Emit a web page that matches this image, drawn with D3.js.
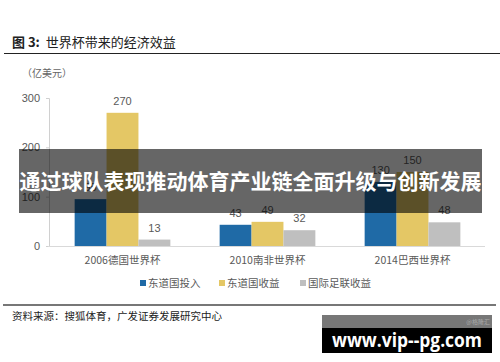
<!DOCTYPE html>
<html>
<head>
<meta charset="utf-8">
<script src="https://cdn.jsdelivr.net/npm/d3@7"></script>
<style>
body { margin: 0; background: #fff; }
svg { display: block; font-family: "Noto Sans CJK SC", "Liberation Sans", sans-serif; }
</style>
</head>
<body>
<script>
// data
var cups = ["2006德国世界杯", "2010南非世界杯", "2014巴西世界杯"];
var seriesNames = ["东道国投入", "东道国收益", "国际足联收益"];
var hostCost = [95, 43, 130];
var hostGain = [270, 49, 150];
var fifaGain = [13, 32, 48];
var yTicks = [0, 100, 200, 300];
var colors = ["#1f6aa6", "#e4c765", "#bfbfbf"];

var W = 500, H = 362;
var svg = d3.select("body").append("svg").attr("width", W).attr("height", H);

// title
var title = svg.append("text").attr("x", 12).attr("y", 47)
    .attr("font-size", 13).attr("fill", "#222");
title.append("tspan").attr("font-weight", "bold").text("图 3:");
title.append("tspan").attr("dx", 6).text("世界杯带来的经济效益");
svg.append("line").attr("x1", 4).attr("x2", 500).attr("y1", 53.5).attr("y2", 53.5)
    .attr("stroke", "#222").attr("stroke-width", 1.2);

svg.append("text").attr("x", 22).attr("y", 77)
    .attr("font-size", 10).attr("fill", "#666").text("（亿美元）");

var x0 = d3.scaleBand().domain(cups).range([50, 485]).paddingInner(0.34).paddingOuter(0.17);
var x1 = d3.scaleBand().domain([0, 1, 2]).range([0, x0.bandwidth()]);
var y = d3.scaleLinear().domain([0, 300]).range([246, 98]);

// y axis
var ya = svg.append("g").attr("transform", "translate(49,0)")
    .call(d3.axisLeft(y).tickValues(yTicks).tickSize(3).tickPadding(6));
ya.select(".domain").attr("stroke", "#d0d0d0");
ya.selectAll(".tick line").attr("stroke", "#d0d0d0");
ya.selectAll(".tick text").attr("font-size", 11).attr("fill", "#595959")
    .attr("font-family", "Liberation Sans, sans-serif");

// baseline
svg.append("line").attr("x1", 48).attr("x2", 485).attr("y1", y(0) + 0.5).attr("y2", y(0) + 0.5)
    .attr("stroke", "#d9d9d9").attr("stroke-width", 1);

var series = [hostCost, hostGain, fifaGain];
var rows = [];
series.forEach(function (vals, s) {
    vals.forEach(function (v, i) { rows.push({ s: s, i: i, v: v }); });
});

svg.selectAll("rect.bar").data(rows).enter().append("rect")
    .attr("class", "bar")
    .attr("x", function (d) { return x0(cups[d.i]) + x1(d.s); })
    .attr("y", function (d) { return y(d.v); })
    .attr("width", x1.bandwidth())
    .attr("height", function (d) { return y(0) - y(d.v); })
    .attr("fill", function (d) { return colors[d.s]; });

svg.selectAll("text.lab").data(rows).enter().append("text")
    .attr("class", "lab")
    .attr("x", function (d) { return x0(cups[d.i]) + x1(d.s) + x1.bandwidth() / 2; })
    .attr("y", function (d) { return y(d.v) - 8; })
    .attr("text-anchor", "middle").attr("font-size", 11).attr("fill", "#595959")
    .attr("font-family", "Liberation Sans, sans-serif")
    .text(function (d) { return d.v; });

// x labels
svg.selectAll("text.xl").data(cups).enter().append("text")
    .attr("class", "xl")
    .attr("x", function (d) { return x0(d) + x0.bandwidth() / 2; })
    .attr("y", 264).attr("text-anchor", "middle")
    .attr("font-size", 10.5).attr("fill", "#595959").text(function (d) { return d; });

// legend
var legX = [140, 219, 300];
var leg = svg.selectAll("g.leg").data(seriesNames).enter().append("g")
    .attr("class", "leg")
    .attr("transform", function (d, i) { return "translate(" + legX[i] + ",283)"; });
leg.append("rect").attr("x", 0).attr("y", -3).attr("width", 6).attr("height", 6)
    .attr("fill", function (d, i) { return colors[i]; });
leg.append("text").attr("x", 8).attr("y", 4).attr("font-size", 10.5).attr("fill", "#595959")
    .text(function (d) { return d; });

// banner overlay
svg.append("rect").attr("x", 19).attr("y", 149).attr("width", 463).attr("height", 64)
    .attr("fill", "#000").attr("fill-opacity", 0.6);
svg.append("text").attr("x", 250.5).attr("y", 189).attr("text-anchor", "middle")
    .attr("font-size", 21).attr("font-weight", "bold").attr("fill", "#fff")
    .text("通过球队表现推动体育产业链全面升级与创新发展");

// footer
svg.append("line").attr("x1", 3).attr("x2", 496).attr("y1", 305).attr("y2", 305)
    .attr("stroke", "#777").attr("stroke-width", 2);
svg.append("text").attr("x", 12).attr("y", 320).attr("font-size", 10.5).attr("fill", "#222")
    .text("资料来源：搜狐体育，广发证券发展研究中心");

// watermark
svg.append("rect").attr("x", 322).attr("y", 315).attr("width", 170).attr("height", 38).attr("fill", "#000");
svg.append("rect").attr("x", 322).attr("y", 315).attr("width", 170).attr("height", 13).attr("fill", "#777");
svg.append("text").attr("x", 490).attr("y", 324).attr("text-anchor", "end")
    .attr("font-size", 6).attr("fill", "#aaa").text("@格隆汇");
svg.append("text").attr("x", 332).attr("y", 347)
    .attr("font-size", 19).attr("font-weight", "bold").attr("fill", "#fff")
    .attr("font-family", "Open Sans, sans-serif")
    .attr("textLength", 150).attr("lengthAdjust", "spacingAndGlyphs")
    .text("www.vip--pg.com");
</script>
</body>
</html>
